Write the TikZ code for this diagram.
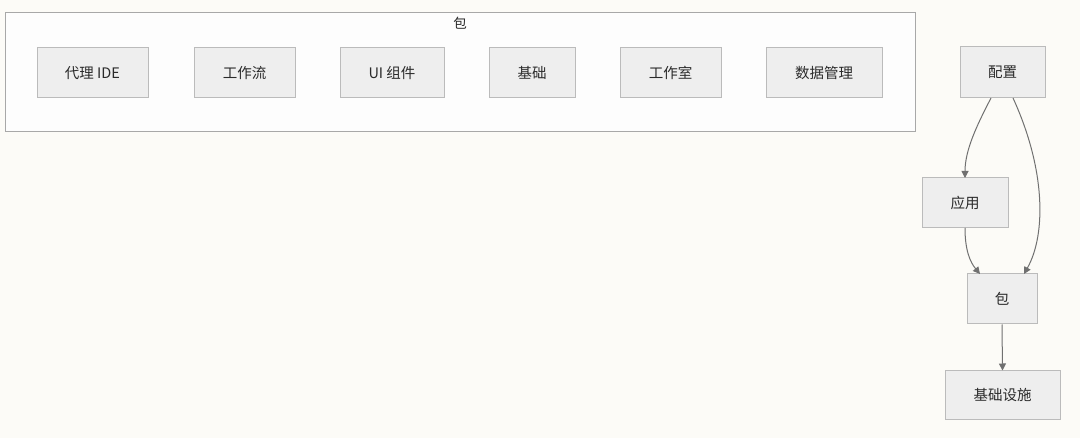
\documentclass[tikz,border=0pt]{standalone}
\usepackage{fontspec}
\setmainfont{Noto Sans CJK SC}
\usetikzlibrary{arrows.meta}
\definecolor{bg}{HTML}{FCFBF7}
\definecolor{clfill}{HTML}{FDFDFD}
\definecolor{clline}{HTML}{A8A8A8}
\definecolor{nfill}{HTML}{EEEEEE}
\definecolor{nline}{HTML}{BBBBBB}
\definecolor{txt}{HTML}{2A2A2A}
\definecolor{edge}{HTML}{707070}
\tikzset{
  box/.style={draw=nline, fill=nfill, line width=1pt, text=txt, font=\fontsize{14.5}{16}\selectfont, inner sep=0pt},
  link/.style={draw=edge, line width=1pt, -{Triangle[length=7pt,width=7pt]}},
}
\newcommand{\bx}[6]{\node[box, minimum width={#4-#2}, minimum height={#5-#3}] (#1) at ({(#2+#4)/2},{-(#3+#5)/2}) {#6};}
\begin{document}
\begin{tikzpicture}[x=1pt,y=1pt]
\fill[bg] (0,0) rectangle (1080,-438);
\useasboundingbox (0,0) rectangle (1080,-438);
\node[draw=clline, fill=clfill, line width=1pt, minimum width=910pt, minimum height=119pt, inner sep=0pt] (cl) at (460,-72.5) {};
\node[text=txt, font=\fontsize{13.5}{15}\selectfont] (cllabel) at (460,-23) {包};
\bx{a}{37}{48}{148}{98}{代理 IDE}
\bx{b}{194}{48}{295}{98}{工作流}
\bx{c}{340}{48}{444}{98}{UI 组件}
\bx{d}{489}{48}{575}{98}{基础}
\bx{e}{620}{48}{721}{98}{工作室}
\bx{f}{766}{48}{882}{98}{数据管理}
\bx{cfg}{960}{47}{1045}{98}{配置}
\bx{app}{922}{178}{1008}{228}{应用}
\bx{pkg}{967}{274}{1037}{324}{包}
\bx{inf}{945}{371}{1060}{420}{基础设施}
\coordinate (cfgA) at (991,-98);
\coordinate (cfgB) at (1013,-98);
\coordinate (appN) at (965,-178);
\coordinate (appS) at (965,-228);
\coordinate (pkgA) at (980,-274);
\coordinate (pkgB) at (1024,-274);
\draw[link] (cfgA) .. controls (977,-125) and (965,-150) .. (appN);
\draw[link] (cfgB) .. controls (1046,-170) and (1046,-235) .. (pkgB);
\draw[link] (appS) .. controls (965,-250) and (970,-262) .. (pkgA);
\draw[link] (pkg.south) -- (inf.north);
\end{tikzpicture}
\end{document}
